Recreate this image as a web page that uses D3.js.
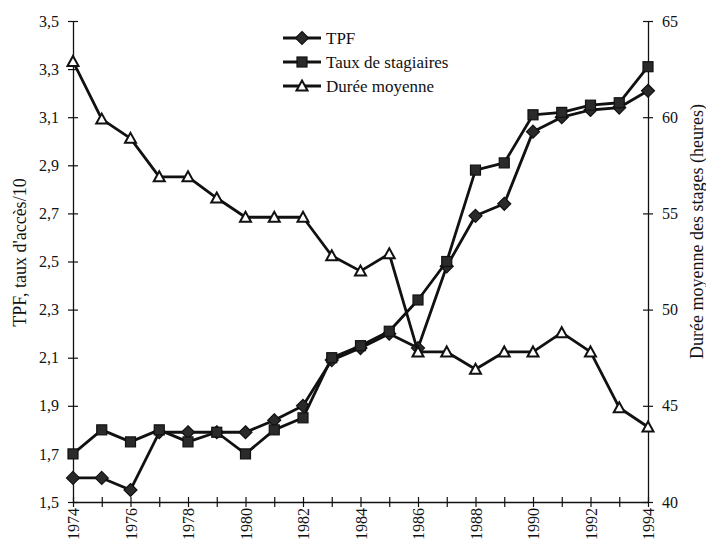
<!DOCTYPE html>
<html>
<head>
<meta charset="utf-8">
<script src="https://cdn.jsdelivr.net/npm/d3@7"></script>
<style>
  html, body { margin: 0; padding: 0; background: #fff; }
  svg { display: block; font-family: "Liberation Serif", "DejaVu Serif", serif; }
</style>
</head>
<body>
<svg id="chart" width="706" height="549"></svg>
<script>
const years = [1974,1975,1976,1977,1978,1979,1980,1981,1982,1983,1984,1985,1986,1987,1988,1989,1990,1991,1992,1993,1994];
const tpf   = [1.60,1.60,1.55,1.79,1.79,1.79,1.79,1.84,1.90,2.09,2.14,2.20,2.14,2.48,2.69,2.74,3.04,3.10,3.13,3.14,3.21];
const taux  = [1.70,1.80,1.75,1.80,1.75,1.79,1.70,1.80,1.85,2.10,2.15,2.21,2.34,2.50,2.88,2.91,3.11,3.12,3.15,3.16,3.31];
const duree = [62.9,59.9,58.9,56.9,56.9,55.8,54.8,54.8,54.8,52.8,52.0,52.9,47.8,47.8,46.9,47.8,47.8,48.8,47.8,44.9,43.9];
const leftTicks  = [1.5,1.7,1.9,2.1,2.3,2.5,2.7,2.9,3.1,3.3,3.5];
const rightTicks = [40,45,50,55,60,65];
const xLabelYears = [1974,1976,1978,1980,1982,1984,1986,1988,1990,1992,1994];
const seriesNames = ["TPF","Taux de stagiaires","Durée moyenne"];
const leftTitle = "TPF, taux d'accès/10";
const rightTitle = "Durée moyenne des stages (heures)";

const svg = d3.select("#chart");
const L = 73, R = 648, T = 21, B = 502;

const x = d3.scaleLinear().domain([1974,1994]).range([L,R]);
const yL = d3.scaleLinear().domain([1.5,3.5]).range([B,T]);
const yR = d3.scaleLinear().domain([40,65]).range([B,T]);

const fmt = d => d3.format(".1f")(d).replace(".", ",");

// Axes
const gl = svg.append("g").attr("transform", `translate(${L},0)`)
  .call(d3.axisLeft(yL).tickValues(leftTicks).tickFormat(fmt).tickSizeInner(5).tickSizeOuter(0).tickPadding(9));
gl.selectAll(".tick line").attr("x2", 5).attr("x1", -5);
const gr = svg.append("g").attr("transform", `translate(${R},0)`)
  .call(d3.axisRight(yR).tickValues(rightTicks).tickSizeInner(5).tickSizeOuter(0).tickPadding(9));
gr.selectAll(".tick line").attr("x1", -5).attr("x2", 5);
const gx = svg.append("g").attr("transform", `translate(0,${B})`)
  .call(d3.axisBottom(x).tickValues(years).tickFormat(d => xLabelYears.includes(d) ? String(d) : "").tickSizeInner(5).tickSizeOuter(0).tickPadding(6));
gx.selectAll(".tick line").attr("y1", -5).attr("y2", 5);
gx.selectAll(".tick text")
  .attr("transform", "rotate(-90)")
  .attr("text-anchor", "end")
  .attr("x", -6).attr("y", 0).attr("dy", "0.35em");

[gl, gr, gx].forEach(g => {
  g.selectAll("path.domain").attr("stroke", "#111").attr("stroke-width", 1.3);
  g.selectAll(".tick line").attr("stroke", "#111").attr("stroke-width", 1.2);
  g.selectAll(".tick text").attr("fill", "#111").attr("font-size", 16).attr("font-family", "Liberation Serif");
});

// Titles
svg.append("text").attr("transform", `translate(20,${(177+328)/2}) rotate(-90)`)
  .attr("text-anchor","middle").attr("dominant-baseline","central")
  .attr("font-size", 18).attr("fill","#111").text(leftTitle);
svg.append("text").attr("transform", `translate(697,${(93+370)/2}) rotate(-90)`)
  .attr("text-anchor","middle").attr("dominant-baseline","central")
  .attr("font-size", 18).attr("fill","#111").text(rightTitle);

// Markers
const diamond = "M0,-6.5L6.5,0L0,6.5L-6.5,0Z";
const triangle = "M0,-5.5L5.5,4.5L-5.5,4.5Z";
function drawMarker(g, type, cx, cy) {
  if (type === "diamond") {
    g.append("path").attr("d", diamond).attr("transform", `translate(${cx},${cy})`)
      .attr("fill", "#2a2a2a").attr("stroke", "#111").attr("stroke-width", 1.2);
  } else if (type === "square") {
    g.append("rect").attr("x", cx-5).attr("y", cy-5).attr("width", 10).attr("height", 10)
      .attr("fill", "#2a2a2a").attr("stroke", "#111").attr("stroke-width", 1.2);
  } else {
    g.append("path").attr("d", triangle).attr("transform", `translate(${cx},${cy})`)
      .attr("fill", "#fff").attr("stroke", "#111").attr("stroke-width", 2);
  }
}

const series = [
  {vals: tpf,   scale: yL, type: "diamond"},
  {vals: taux,  scale: yL, type: "square"},
  {vals: duree, scale: yR, type: "triangle"}
];
series.forEach(s => {
  const g = svg.append("g");
  const line = d3.line().x((d,i) => x(years[i])).y(d => s.scale(d));
  g.append("path").datum(s.vals).attr("d", line)
    .attr("fill","none").attr("stroke","#111").attr("stroke-width", 2.8).attr("stroke-linejoin","round");
  s.vals.forEach((v,i) => drawMarker(g, s.type, x(years[i]), s.scale(v)));
});

// Legend
const legY = [38, 62, 86];
seriesNames.forEach((name, i) => {
  const g = svg.append("g");
  g.append("line").attr("x1", 283).attr("x2", 321).attr("y1", legY[i]).attr("y2", legY[i])
    .attr("stroke","#111").attr("stroke-width", 2.8);
  drawMarker(g, series[i].type, 302, legY[i]);
  g.append("text").attr("x", 326).attr("y", legY[i]).attr("dy","0.35em")
    .attr("font-size", 17).attr("fill","#111").text(name);
});
</script>
</body>
</html>
